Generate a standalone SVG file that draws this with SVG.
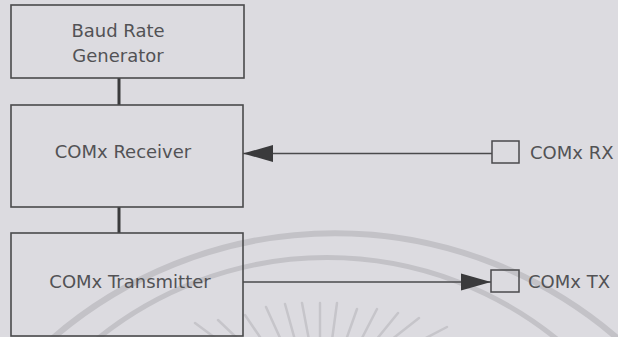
<svg xmlns="http://www.w3.org/2000/svg" width="618" height="337" viewBox="0 0 618 337">
  <style>
    .box { fill: none; stroke: #4a4a4c; stroke-width: 1.6; }
    .pin { fill: none; stroke: #4a4a4c; stroke-width: 1.5; }
    .label { font-family: "DejaVu Sans", Verdana, sans-serif; font-size: 18px; fill: #525255; }
    .link { stroke: #3a3a3c; stroke-width: 3; fill: none; }
    .signal { stroke: #4a4a4c; stroke-width: 1.6; fill: none; }
    .seal { fill: none; stroke: #c3c2c7; }
    .ray { stroke: #c6c5ca; stroke-width: 2.5; stroke-linecap: round; }
  </style>
  <defs>
    <marker id="head" markerUnits="userSpaceOnUse" markerWidth="31" markerHeight="18"
            viewBox="0 -9 31 18" refX="30" refY="0" orient="auto">
      <path d="M0,-8.5 L30,0 L0,8.5 Z" fill="#3a3a3c"/>
    </marker>
  </defs>

  <!-- paper -->
  <rect x="0" y="0" width="618" height="337" fill="#dcdbe0"/>

  <!-- faint emblem printed on the page -->
  <g id="emblem">
    <path class="seal" stroke-width="6" d="M45,345 A432,432 0 0 1 625,345"/>
    <path class="seal" stroke-width="5" d="M90,345 A365,365 0 0 1 564,345"/>
    <line class="ray" x1="195" y1="323" x2="218" y2="340"/>
    <line class="ray" x1="218" y1="320" x2="239" y2="340"/>
    <line class="ray" x1="245" y1="315" x2="262" y2="340"/>
    <line class="ray" x1="266" y1="307" x2="281" y2="340"/>
    <line class="ray" x1="285" y1="304" x2="295" y2="340"/>
    <line class="ray" x1="302" y1="303" x2="309" y2="340"/>
    <line class="ray" x1="320" y1="303" x2="320" y2="340"/>
    <line class="ray" x1="337" y1="303" x2="332" y2="340"/>
    <line class="ray" x1="357" y1="309" x2="346" y2="340"/>
    <line class="ray" x1="377" y1="309" x2="361" y2="340"/>
    <line class="ray" x1="398" y1="313" x2="376" y2="340"/>
    <line class="ray" x1="419" y1="318" x2="391" y2="340"/>
    <line class="ray" x1="447" y1="327" x2="422" y2="340"/>
  </g>

  <!-- connectors -->
  <g id="connectors">
    <line class="link" x1="119" y1="78" x2="119" y2="105"/>
    <line class="link" x1="119" y1="207" x2="119" y2="233"/>
    <line class="signal" x1="492" y1="153.5" x2="243" y2="153.5" marker-end="url(#head)"/>
    <line class="signal" x1="243" y1="282" x2="491" y2="282" marker-end="url(#head)"/>
  </g>

  <g id="baud-rate-generator">
    <rect class="box" x="11" y="5" width="233" height="73"/>
    <text class="label" x="118" y="37" text-anchor="middle">Baud Rate</text>
    <text class="label" x="118" y="61.5" text-anchor="middle">Generator</text>
  </g>

  <g id="comx-receiver">
    <rect class="box" x="11" y="105" width="232" height="102"/>
    <text class="label" x="123" y="158" text-anchor="middle">COMx Receiver</text>
  </g>

  <g id="comx-transmitter">
    <rect class="box" x="11" y="233" width="232" height="103"/>
    <text class="label" x="130" y="287.5" text-anchor="middle">COMx Transmitter</text>
  </g>

  <g id="comx-rx">
    <rect class="pin" x="492" y="141" width="27" height="22"/>
    <text class="label" x="530" y="159">COMx RX</text>
  </g>

  <g id="comx-tx">
    <rect class="pin" x="491" y="270" width="28" height="22"/>
    <text class="label" x="528" y="288">COMx TX</text>
  </g>
</svg>
